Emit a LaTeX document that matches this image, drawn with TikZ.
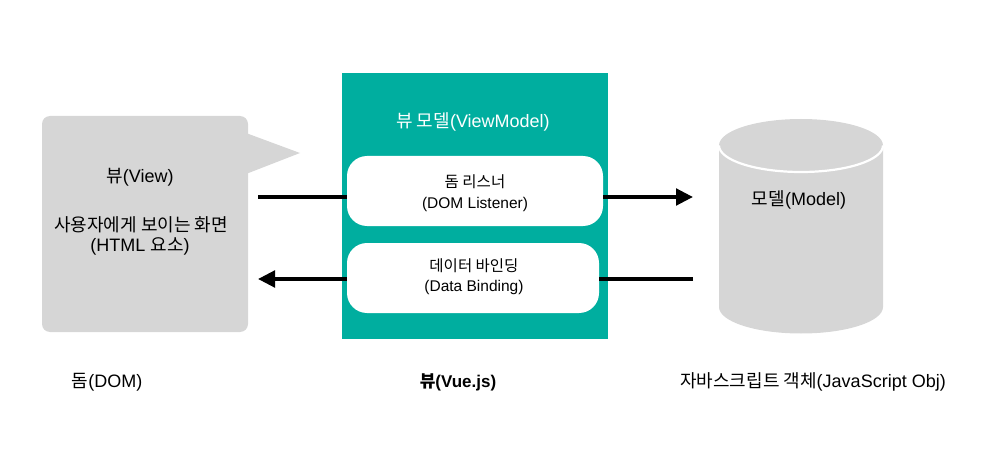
\documentclass[tikz,border=0pt]{standalone}
\usepackage{fontspec}
\setmainfont{Liberation Sans}
\newfontfamily\kr{Noto Sans CJK KR}
\usetikzlibrary{arrows.meta}
\definecolor{bubblegray}{HTML}{D6D6D6}
\definecolor{vmteal}{HTML}{00AE9F}
\begin{document}
\begin{tikzpicture}[x=1pt,y=1pt,
  txt/.style={inner sep=0pt, font=\fontsize{18}{22}\selectfont},
  boxtxt/.style={inner sep=0pt, align=center, font=\fontsize{15.5}{20.5}\selectfont},
  wbox/.style={fill=white, rounded corners=20pt, minimum width=256pt, minimum height=70pt, inner sep=0pt},
  conn/.style={line width=3.7pt},
  arr/.style={conn, -{Triangle[length=17pt,width=16.5pt]}}]
\useasboundingbox (0,0) rectangle (983,448);

% View bubble
\node[fill=bubblegray, rounded corners=8pt, minimum width=206pt, minimum height=216pt, inner sep=0pt] (view) at (145,224) {};
\fill[bubblegray] (246,315) -- (300,295) -- (246,274) -- cycle;
\node[txt] (viewt) at (140,271) {{\kr 뷰}(View)};
\node[txt] (viewd1) at (141,223) {\kr 사용자에게 보이는 화면};
\node[txt] (viewd2) at (140,202) {(HTML {\kr 요소})};

% ViewModel box
\node[fill=vmteal, minimum width=266pt, minimum height=266pt, inner sep=0pt] (vm) at (475,242) {};
\node[txt, text=white] (vmt) at (473,326) {{\kr 뷰 모델}(ViewModel)};
\node[wbox] (dl) at (475,257) {};
\node[boxtxt] at (475,255) {{\kr 돔 리스너}\\(DOM Listener)};
\node[wbox, minimum width=252pt] (db) at (473,170) {};
\node[boxtxt] at (474,171.5) {{\kr 데이터 바인딩}\\(Data Binding)};

% Model cylinder
\fill[bubblegray] (719,302.5) -- (719,141) arc[start angle=180, end angle=360, x radius=82, y radius=26.5]
  -- (883,302.5) arc[start angle=0, end angle=180, x radius=82, y radius=26.5] -- cycle;
\draw[white, line width=2.2pt] (719,302.5) arc[start angle=180, end angle=360, x radius=82, y radius=26.5];
\node[minimum width=164pt, minimum height=214pt, inner sep=0pt] (model) at (801,222) {};
\node[txt] (modelt) at (799,248) {{\kr 모델}(Model)};

% connectors
\coordinate (l1) at (258,251);
\coordinate (r1) at (693,251);
\coordinate (l2) at (258,169);
\coordinate (r2) at (693,169);
\draw[conn] (l1) -- (l1 -| dl.west);
\draw[arr] (r1 -| dl.east) -- (r1);
\draw[conn] (r2) -- (r2 -| db.east);
\draw[arr] (l2 -| db.west) -- (l2);

% captions
\node[txt] (cdom) at (107,66) {{\kr 돔}(DOM)};
\node[txt, font=\fontsize{17}{22}\selectfont\bfseries] (cvue) at (458,66) {{\kr\bfseries 뷰}(Vue.js)};
\node[txt] (cjs) at (813,66) {{\kr 자바스크립트 객체}(JavaScript Obj)};
\end{tikzpicture}
\end{document}
